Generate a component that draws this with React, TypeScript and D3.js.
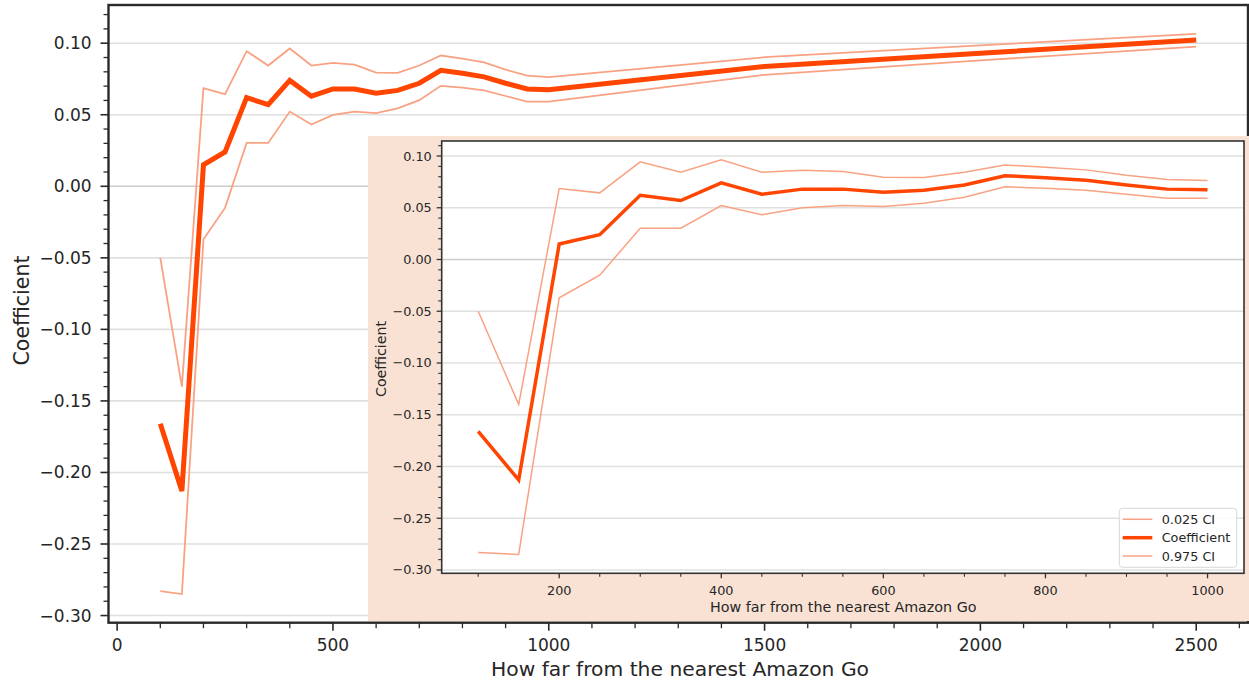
import React from "react";
import * as d3 from "d3";

const distances = [100, 150, 200, 250, 300, 350, 400, 450, 500, 550, 600, 650, 700, 750, 800, 850, 900, 950, 1000, 1500, 2000, 2500];
const coefficient = [-0.166, -0.213, 0.015, 0.024, 0.062, 0.057, 0.074, 0.063, 0.068, 0.068, 0.065, 0.067, 0.072, 0.081, 0.079, 0.0765, 0.072, 0.068, 0.0675, 0.0837, 0.093, 0.1023];
const ciUpper = [-0.05, -0.14, 0.0686, 0.0644, 0.0944, 0.0844, 0.0963, 0.0844, 0.0863, 0.085, 0.0795, 0.0792, 0.0844, 0.0914, 0.0892, 0.0866, 0.0815, 0.0773, 0.0763, 0.0902, 0.0985, 0.1065];
const ciLower = [-0.283, -0.285, -0.037, -0.0151, 0.0303, 0.0303, 0.0522, 0.0432, 0.0499, 0.0522, 0.0512, 0.0544, 0.0602, 0.0702, 0.0689, 0.067, 0.0631, 0.0592, 0.0592, 0.0779, 0.088, 0.0976];
const insetMaxDistance = 1000;

const mainXTicks = [0, 500, 1000, 1500, 2000, 2500];
const mainXMinor = [100, 200, 300, 400, 600, 700, 800, 900, 1100, 1200, 1300, 1400, 1600, 1700, 1800, 1900, 2100, 2200, 2300, 2400, 2600];
const yTicks = [-0.3, -0.25, -0.2, -0.15, -0.1, -0.05, 0, 0.05, 0.1];
const insetXTicks = [200, 400, 600, 800, 1000];
const insetXMinor = [100, 250, 300, 350, 450, 500, 550, 650, 700, 750, 850, 900, 950];
const legendLabels = ["0.025 CI", "Coefficient", "0.975 CI"];
const xLabel = "How far from the nearest Amazon Go";
const yLabel = "Coefficient";

const FONT = "DejaVu Sans, sans-serif";
const ORANGE = "#ff4500";
const CI_COLOR = "#f9a283";
const PEACH = "#f9e2d4";
const TEXT = "#262626";

const fmtY = (v: number) => {
  const s = Math.abs(v).toFixed(2);
  return (v < -1e-9 ? "\u2212" : "") + s;
};

function minorY(lo: number, hi: number) {
  const out: number[] = [];
  for (let i = Math.round(lo * 100); i <= Math.round(hi * 100); i++) {
    if (i % 5 !== 0) out.push(i / 100);
  }
  return out;
}

export default function App() {
  // main axes
  const x = d3.scaleLinear().domain([-20, 2620]).range([108.5, 1248]);
  const y = d3.scaleLinear().domain([-0.305, 0.1267]).range([622.7, 5]);
  // inset axes
  const ix = d3.scaleLinear().domain([55, 1045]).range([441.7, 1244]);
  const iy = d3.scaleLinear().domain([-0.3032, 0.1145]).range([573.3, 141]);

  const pts = distances.map((d, i) => ({ d, c: coefficient[i], u: ciUpper[i], l: ciLower[i] }));
  const insetPts = pts.filter((p) => p.d <= insetMaxDistance);

  const mLine = (key: "c" | "u" | "l") =>
    d3.line<any>().x((p) => x(p.d)).y((p) => y(p[key]))(pts) as string;
  const iLine = (key: "c" | "u" | "l") =>
    d3.line<any>().x((p) => ix(p.d)).y((p) => iy(p[key]))(insetPts) as string;

  const mainMinorY = minorY(-0.3, 0.12);
  const insetMinorY = minorY(-0.3, 0.11);

  const [mx0, mx1] = x.range();
  const [my0, my1] = [y(-0.305), y(0.1267)];
  const [ix0, ix1] = ix.range();
  const [iy0, iy1] = [iy(-0.3032), iy(0.1145)];

  const legendY = [519.3, 537.7, 556];

  return (
    <svg width={1249} height={680} style={{ position: "absolute", left: 0, top: 0, background: "#fff" }} fontFamily={FONT}>
      {/* main gridlines */}
      {yTicks.map((t) => (
        <line key={"g" + t} x1={mx0} x2={mx1} y1={y(t)} y2={y(t)} stroke={t === 0 ? "#cccccc" : "#dfdfdf"} strokeWidth={1.6} />
      ))}
      {/* main lines */}
      <path d={mLine("u")} fill="none" stroke={CI_COLOR} strokeWidth={1.8} />
      <path d={mLine("l")} fill="none" stroke={CI_COLOR} strokeWidth={1.8} />
      <path d={mLine("c")} fill="none" stroke={ORANGE} strokeWidth={5} strokeLinejoin="miter" />

      {/* main spines */}
      <rect x={mx0} y={my1} width={mx1 - mx0} height={my0 - my1} fill="none" stroke="#2a2a2a" strokeWidth={2.4} />

      {/* main y ticks */}
      {yTicks.map((t) => (
        <g key={"yt" + t}>
          <line x1={mx0 - 8} x2={mx0} y1={y(t)} y2={y(t)} stroke="#2a2a2a" strokeWidth={1.6} />
          <text x={91.7} y={y(t)} textAnchor="end" dominantBaseline="central" fontSize={17} fill={TEXT}>
            {fmtY(t)}
          </text>
        </g>
      ))}
      {mainMinorY.map((t) => (
        <line key={"ym" + t} x1={mx0 - 5} x2={mx0} y1={y(t)} y2={y(t)} stroke="#2a2a2a" strokeWidth={1.3} />
      ))}
      {/* main x ticks */}
      {mainXTicks.map((t) => (
        <g key={"xt" + t}>
          <line x1={x(t)} x2={x(t)} y1={my0} y2={my0 + 8} stroke="#2a2a2a" strokeWidth={1.6} />
          <text x={x(t)} y={651} textAnchor="middle" fontSize={17} fill={TEXT}>
            {t}
          </text>
        </g>
      ))}
      {mainXMinor.map((t) => (
        <line key={"xm" + t} x1={x(t)} x2={x(t)} y1={my0} y2={my0 + 5.5} stroke="#2a2a2a" strokeWidth={1.3} />
      ))}
      <text x={680} y={675.5} textAnchor="middle" fontSize={20.3} fill={TEXT}>
        {xLabel}
      </text>
      <text transform={`translate(29.3,310.5) rotate(-90)`} textAnchor="middle" fontSize={20.5} fill={TEXT}>
        {yLabel}
      </text>

      {/* inset background */}
      <rect x={368} y={136} width={1249 - 368} height={621 - 136} fill={PEACH} />
      <rect x={ix0} y={iy1} width={ix1 - ix0} height={iy0 - iy1} fill="#fff" />
      {yTicks.map((t) => (
        <line key={"ig" + t} x1={ix0} x2={ix1} y1={iy(t)} y2={iy(t)} stroke={t === 0 ? "#cccccc" : "#e0e0e0"} strokeWidth={1.3} />
      ))}
      <path d={iLine("u")} fill="none" stroke={CI_COLOR} strokeWidth={1.5} />
      <path d={iLine("l")} fill="none" stroke={CI_COLOR} strokeWidth={1.5} />
      <path d={iLine("c")} fill="none" stroke={ORANGE} strokeWidth={3.5} />
      <rect x={ix0} y={iy1} width={ix1 - ix0} height={iy0 - iy1} fill="none" stroke="#333" strokeWidth={1.6} />

      {yTicks.map((t) => (
        <g key={"iyt" + t}>
          <line x1={ix0 - 5} x2={ix0} y1={iy(t)} y2={iy(t)} stroke="#333" strokeWidth={1.3} />
          <text x={431.7} y={iy(t)} textAnchor="end" dominantBaseline="central" fontSize={12.8} fill={TEXT}>
            {fmtY(t)}
          </text>
        </g>
      ))}
      {insetMinorY.map((t) => (
        <line key={"iym" + t} x1={ix0 - 3.5} x2={ix0} y1={iy(t)} y2={iy(t)} stroke="#333" strokeWidth={1.1} />
      ))}
      {insetXTicks.map((t) => (
        <g key={"ixt" + t}>
          <line x1={ix(t)} x2={ix(t)} y1={iy0} y2={iy0 + 5} stroke="#333" strokeWidth={1.3} />
          <text x={ix(t)} y={594.5} textAnchor="middle" fontSize={12.8} fill={TEXT}>
            {t}
          </text>
        </g>
      ))}
      {insetXMinor.map((t) => (
        <line key={"ixm" + t} x1={ix(t)} x2={ix(t)} y1={iy0} y2={iy0 + 3.5} stroke="#333" strokeWidth={1.1} />
      ))}
      <text x={843.3} y={611.7} textAnchor="middle" fontSize={14.3} fill={TEXT}>
        {xLabel}
      </text>
      <text transform={`translate(385.7,359) rotate(-90)`} textAnchor="middle" fontSize={14.2} fill={TEXT}>
        {yLabel}
      </text>

      {/* legend */}
      <rect x={1119.3} y={508.3} width={117.4} height={59} rx={3} fill="#fff" fillOpacity={0.85} stroke="#d8d8d8" strokeWidth={1} />
      {legendLabels.map((lab, i) => (
        <g key={lab}>
          <line
            x1={1122.7}
            x2={1152.3}
            y1={legendY[i]}
            y2={legendY[i]}
            stroke={i === 1 ? ORANGE : CI_COLOR}
            strokeWidth={i === 1 ? 3.5 : 1.5}
          />
          <text x={1161.7} y={legendY[i]} dominantBaseline="central" fontSize={12.8} fill={TEXT}>
            {lab}
          </text>
        </g>
      ))}
    </svg>
  );
}
